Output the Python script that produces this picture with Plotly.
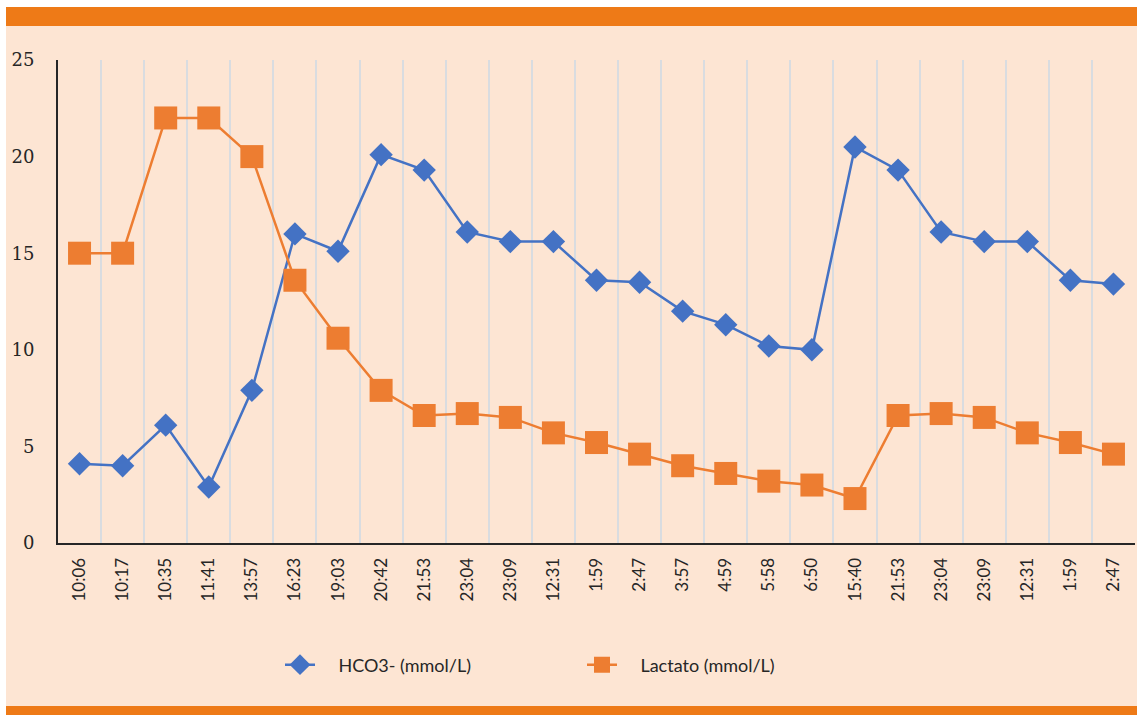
import plotly.graph_objects as go

categories = ["10:06", "10:17", "10:35", "11:41", "13:57", "16:23", "19:03", "20:42",
              "21:53", "23:04", "23:09", "12:31", "1:59", "2:47", "3:57", "4:59",
              "5:58", "6:50", "15:40", "21:53", "23:04", "23:09", "12:31", "1:59", "2:47"]
hco3 = [4.1, 4.0, 6.1, 2.9, 7.9, 16.0, 15.1, 20.1, 19.3, 16.1, 15.6, 15.6, 13.6, 13.5,
        12.0, 11.3, 10.2, 10.0, 20.5, 19.3, 16.1, 15.6, 15.6, 13.6, 13.4]
lactato = [15.0, 15.0, 22.0, 22.0, 20.0, 13.6, 10.6, 7.9, 6.6, 6.7, 6.5, 5.7, 5.2, 4.6,
           4.0, 3.6, 3.2, 3.0, 2.3, 6.6, 6.7, 6.5, 5.7, 5.2, 4.6]
y_ticks = [0, 5, 10, 15, 20, 25]
series_names = ["HCO3- (mmol/L)", "Lactato (mmol/L)"]

W, H = 1137, 715
L, R, T, B = 58, 2, 60, 172
PW, PH = W - L - R, H - T - B

BLUE = "#4472C4"
ORANGE = "#ED7D31"
BAND = "#EE7A17"
BG = "#FDE5D3"
PAD = "\u00a0" * 4

xs = list(range(len(categories)))

fig = go.Figure()
fig.add_trace(go.Scatter(
    x=xs, y=hco3, name=PAD + series_names[0], mode="lines+markers",
    line=dict(color=BLUE, width=2.5),
    marker=dict(symbol="diamond", size=18, color=BLUE),
))
fig.add_trace(go.Scatter(
    x=xs, y=lactato, name=PAD + series_names[1], mode="lines+markers",
    line=dict(color=ORANGE, width=2.5),
    marker=dict(symbol="square", size=23, color=ORANGE),
))


def px2x(px):
    return (px - L) / PW


def py2y(py):
    return (H - B - py) / PH


shapes = [
    dict(type="rect", xref="paper", yref="paper", x0=px2x(0), x1=px2x(W), y0=py2y(0), y1=py2y(7),
         fillcolor="white", line=dict(width=0), layer="above"),
    dict(type="rect", xref="paper", yref="paper", x0=px2x(0), x1=px2x(6), y0=py2y(0), y1=py2y(H),
         fillcolor="white", line=dict(width=0), layer="above"),
    dict(type="rect", xref="paper", yref="paper", x0=px2x(6), x1=px2x(W), y0=py2y(7), y1=py2y(26),
         fillcolor=BAND, line=dict(width=0), layer="above"),
    dict(type="rect", xref="paper", yref="paper", x0=px2x(6), x1=px2x(W), y0=py2y(706), y1=py2y(H),
         fillcolor=BAND, line=dict(width=0), layer="above"),
]

fig.update_layout(
    width=W, height=H, autosize=False,
    margin=dict(l=L, r=R, t=T, b=B, pad=0),
    paper_bgcolor=BG, plot_bgcolor=BG,
    shapes=shapes,
    showlegend=True,
    legend=dict(
        orientation="h", x=px2x(280), xanchor="left", y=py2y(665), yanchor="middle",
        font=dict(family="Lato", size=18, color="#262626"),
        entrywidth=257, entrywidthmode="pixels",
        bgcolor="rgba(0,0,0,0)",
    ),
    xaxis=dict(
        range=[-0.5, len(categories) - 0.5],
        tickmode="array", tickvals=xs, ticktext=categories,
        tickangle=-90, ticks="", showgrid=False, zeroline=False,
        tickfont=dict(family="Lato", size=17, color="#262626"),
        ticklabelstandoff=6,
        showline=True, linecolor="#262626", linewidth=2,
        minor=dict(tickmode="array", tickvals=[i + 0.5 for i in xs[:-1]],
                   showgrid=True, gridcolor="#D9DCE0", gridwidth=2, ticks=""),
    ),
    yaxis=dict(
        range=[0, 25], tickmode="array", tickvals=y_ticks,
        ticks="", showgrid=False, zeroline=False,
        tickfont=dict(family="DejaVu Serif", size=18, color="#262626"),
        ticklabelstandoff=18,
        showline=True, linecolor="#262626", linewidth=2,
    ),
)

fig.write_html("out.html", config={"displayModeBar": False},
               post_script="document.body.style.margin='0px';document.body.style.overflow='hidden';")
